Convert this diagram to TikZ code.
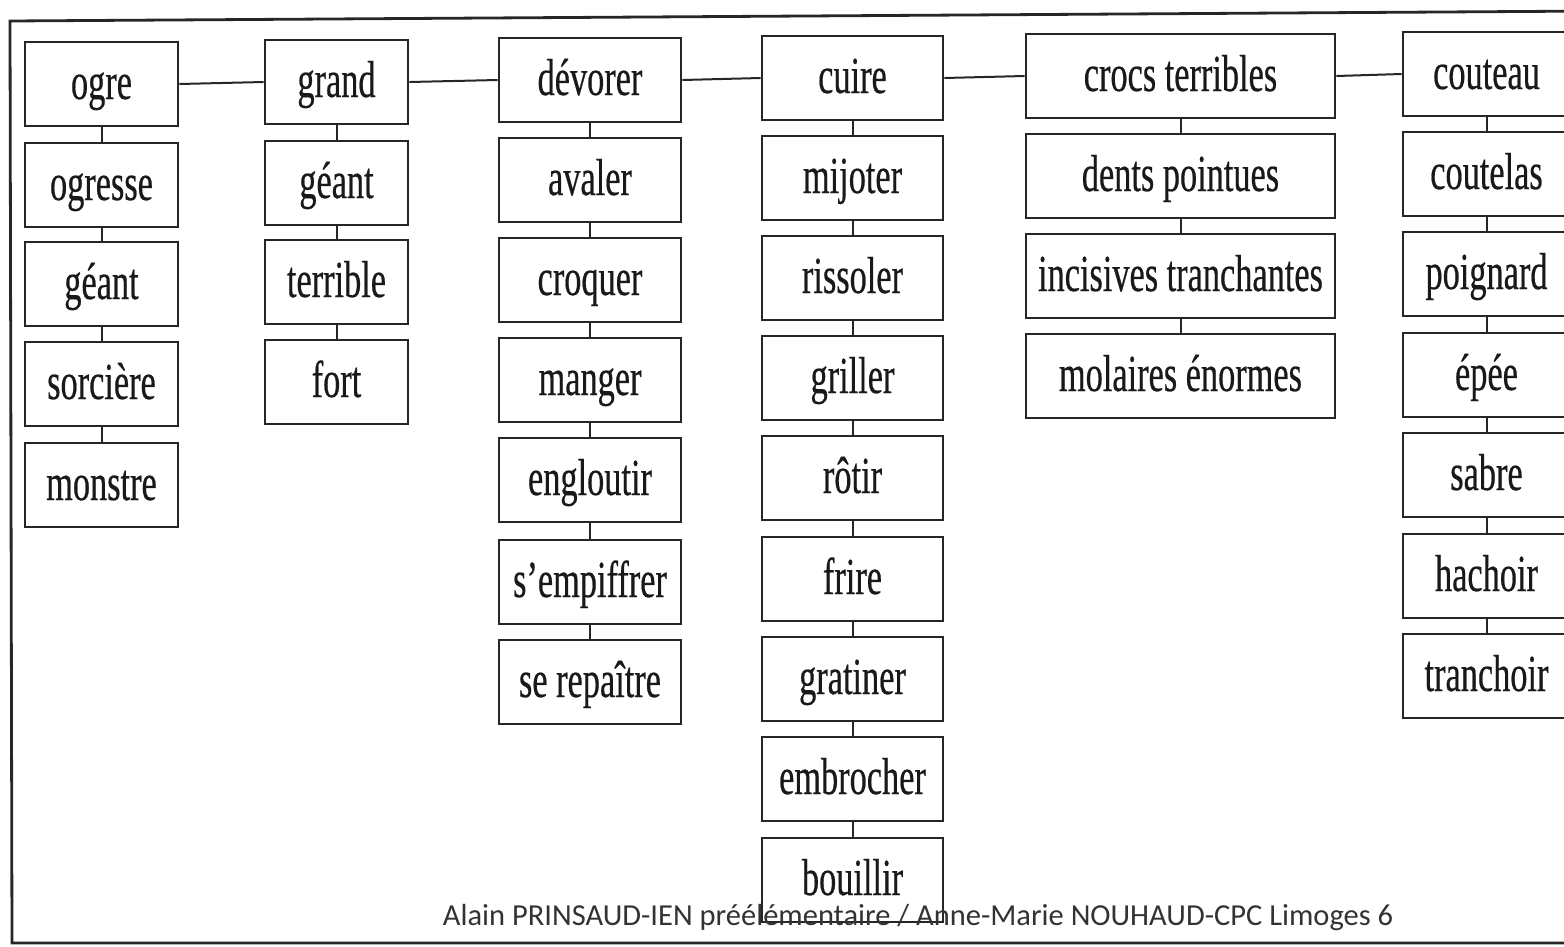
\documentclass[tikz,border=0pt]{standalone}
\usepackage{fontspec}
\newfontfamily\boxfont[FakeStretch=0.66,FakeBold=0.4]{Liberation Serif}
\newfontfamily\footfont{Carlito}
\tikzset{
  wbox/.style={draw=black!85, line width=2.6pt, inner sep=0pt, minimum height=84pt,
    text height=40pt, text depth=10pt, font=\boxfont\fontsize{52}{60}\selectfont, text=black!90},
  c1/.style={wbox, minimum width=153pt},
  c2/.style={wbox, minimum width=143pt},
  c3/.style={wbox, minimum width=182pt},
  c4/.style={wbox, minimum width=181pt},
  c5/.style={wbox, minimum width=309pt},
  c6/.style={wbox, minimum width=167pt},
  link/.style={draw=black!85, line width=2pt},
  frame/.style={draw=black!85, line width=2.8pt}
}
\begin{document}
\begin{tikzpicture}[x=1pt,y=-1pt]
\useasboundingbox (0,0) rectangle (1564,946);
\clip (0,0) rectangle (1564,946);
% outer frame
\draw[frame] (1600,11) -- (10,21) -- (12,943) -- (1600,943);
% column 1
\node[c1] (ogre) at (101.5,84) {ogre};
\node[c1] (ogresse) at (101.5,185) {ogresse};
\node[c1] (geant1) at (101.5,284) {géant};
\node[c1] (sorciere) at (101.5,384) {sorcière};
\node[c1] (monstre) at (101.5,485) {monstre};
% column 2
\node[c2] (grand) at (336.5,82) {grand};
\node[c2] (geant2) at (336.5,183) {géant};
\node[c2] (terrible) at (336.5,282) {terrible};
\node[c2] (fort) at (336.5,382) {fort};
% column 3
\node[c3] (devorer) at (590,80) {dévorer};
\node[c3] (avaler) at (590,180) {avaler};
\node[c3] (croquer) at (590,280) {croquer};
\node[c3] (manger) at (590,380) {manger};
\node[c3] (engloutir) at (590,480) {engloutir};
\node[c3] (empiffrer) at (590,582) {s’empiffrer};
\node[c3] (repaitre) at (590,682) {se repaître};
% column 4
\node[c4] (cuire) at (852.5,78) {cuire};
\node[c4] (mijoter) at (852.5,178) {mijoter};
\node[c4] (rissoler) at (852.5,278) {rissoler};
\node[c4] (griller) at (852.5,378) {griller};
\node[c4] (rotir) at (852.5,478) {rôtir};
\node[c4] (frire) at (852.5,579) {frire};
\node[c4] (gratiner) at (852.5,679) {gratiner};
\node[c4] (embrocher) at (852.5,779) {embrocher};
\node[c4] (bouillir) at (852.5,880) {bouillir};
% column 5
\node[c5] (crocs) at (1180.5,76) {crocs terribles};
\node[c5] (dents) at (1180.5,176) {dents pointues};
\node[c5] (incisives) at (1180.5,276) {incisives tranchantes};
\node[c5] (molaires) at (1180.5,376) {molaires énormes};
% column 6
\node[c6] (couteau) at (1486.5,74) {couteau};
\node[c6] (coutelas) at (1486.5,174) {coutelas};
\node[c6] (poignard) at (1486.5,274) {poignard};
\node[c6] (epee) at (1486.5,375) {épée};
\node[c6] (sabre) at (1486.5,475) {sabre};
\node[c6] (hachoir) at (1486.5,576) {hachoir};
\node[c6] (tranchoir) at (1486.5,676) {tranchoir};
% horizontal links
\draw[link] (ogre.east) -- (grand.west);
\draw[link] (grand.east) -- (devorer.west);
\draw[link] (devorer.east) -- (cuire.west);
\draw[link] (cuire.east) -- (crocs.west);
\draw[link] (crocs.east) -- (couteau.west);
% vertical links
\foreach \a/\b in {ogre/ogresse, ogresse/geant1, geant1/sorciere, sorciere/monstre,
  grand/geant2, geant2/terrible, terrible/fort,
  devorer/avaler, avaler/croquer, croquer/manger, manger/engloutir, engloutir/empiffrer, empiffrer/repaitre,
  cuire/mijoter, mijoter/rissoler, rissoler/griller, griller/rotir, rotir/frire, frire/gratiner, gratiner/embrocher, embrocher/bouillir,
  crocs/dents, dents/incisives, incisives/molaires,
  couteau/coutelas, coutelas/poignard, poignard/epee, epee/sabre, sabre/hachoir, hachoir/tranchoir}
  \draw[link] (\a.south) -- (\b.north);
% footer
\node[font=\footfont\fontsize{30.5}{34}\selectfont, text=black!80, inner sep=0pt] (footer) at (918,918) {Alain PRINSAUD-IEN préélémentaire / Anne-Marie NOUHAUD-CPC Limoges 6};
\end{tikzpicture}
\end{document}
